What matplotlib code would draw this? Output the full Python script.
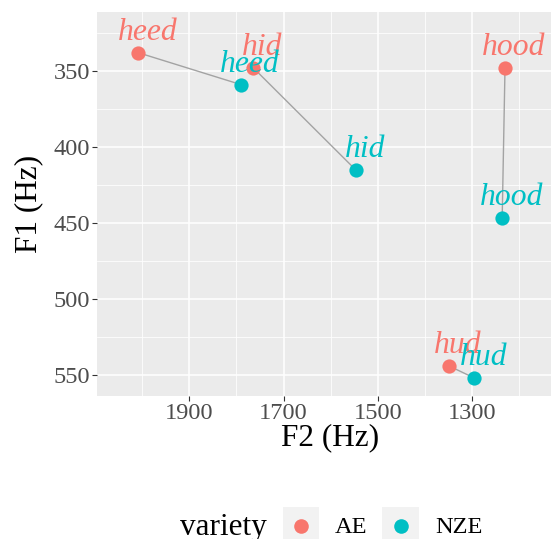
import matplotlib
matplotlib.use('Agg')
import matplotlib.pyplot as plt
from matplotlib.lines import Line2D
from matplotlib.patches import Rectangle
from matplotlib.legend_handler import HandlerBase
from matplotlib.ticker import MultipleLocator

plt.rcParams['font.family'] = ['Liberation Serif', 'DejaVu Serif']

# vowel formant means (Hz)
vowels = ['heed', 'hid', 'hood', 'hud']
ae_f2 = [2008, 1764, 1230, 1349]
ae_f1 = [338, 348, 348, 544]
nze_f2 = [1790, 1547, 1236, 1295]
nze_f1 = [359, 415, 447, 552]

varieties = ['AE', 'NZE']
colors = {'AE': '#F8766D', 'NZE': '#00BFC4'}


class KeyHandler(HandlerBase):
    # ggplot-like legend key: grey square with a centred dot
    def create_artists(self, legend, orig_handle, xdescent, ydescent,
                       width, height, fontsize, trans):
        rect = Rectangle((-xdescent, -ydescent), width, height,
                         facecolor='#F2F2F2', edgecolor='none', transform=trans)
        dot = Line2D([width / 2 - xdescent], [height / 2 - ydescent],
                     marker='o', linestyle='none', markersize=10.5,
                     markerfacecolor=orig_handle.get_markerfacecolor(),
                     markeredgewidth=0, transform=trans)
        return [rect, dot]


W, H = 551, 539
fig = plt.figure(figsize=(W / 100, H / 100), dpi=100)
ax = fig.add_axes([97 / W, (H - 395.7) / H, 454 / W, 383.7 / H])
ax.set_facecolor('#EBEBEB')
for s in ax.spines.values():
    s.set_visible(False)

# connecting segments AE -> NZE
for i in range(len(vowels)):
    ax.plot([ae_f2[i], nze_f2[i]], [ae_f1[i], nze_f1[i]],
            color='#A3A3A3', lw=1.0, zorder=2)

series = {'AE': (ae_f2, ae_f1), 'NZE': (nze_f2, nze_f1)}
for v in varieties:
    xs, ys = series[v]
    ax.scatter(xs, ys, s=105, color=colors[v], zorder=3, linewidths=0)
for v in varieties:
    xs, ys = series[v]
    for lab, x, y in zip(vowels, xs, ys):
        ax.annotate(lab, (x, y), xytext=(6.5, 9.4), textcoords='offset points',
                    ha='center', va='baseline', fontsize=22.8, style='italic',
                    color=colors[v], zorder=4)

ax.set_xlim(2095.9, 1132.4)
ax.set_ylim(563.6, 311.2)
ax.xaxis.set_major_locator(MultipleLocator(200))
ax.xaxis.set_minor_locator(MultipleLocator(100))
ax.yaxis.set_major_locator(MultipleLocator(50))
ax.yaxis.set_minor_locator(MultipleLocator(25))
ax.set_xticks([1900, 1700, 1500, 1300])
ax.grid(which='major', color='white', lw=1.1)
ax.grid(which='minor', color='white', lw=0.55)
ax.set_axisbelow(True)
ax.tick_params(which='major', length=3.6, width=0.8, color='#333333',
               labelcolor='#4D4D4D', labelsize=17.6, pad=1.5)
ax.tick_params(which='minor', length=0)

fig.text(330 / W, (H - 445) / H, 'F2 (Hz)', ha='center', va='baseline',
         fontsize=22.5)
fig.text(29 / W, (H - 204) / H, 'F1 (Hz)', ha='center', va='center',
         rotation=90, fontsize=22.5)

# legend
fig.text(180 / W, (H - 535) / H, 'variety', ha='left', va='baseline',
         fontsize=22.5)
handles = [Line2D([], [], marker='o', linestyle='none',
                  markerfacecolor=colors[v]) for v in varieties]
fig.legend(handles, varieties, handler_map={Line2D: KeyHandler()},
           loc='upper left', bbox_to_anchor=(282.7 / W, (H - 506.7) / H),
           ncol=2, frameon=False, fontsize=17.6, borderpad=0, borderaxespad=0,
           handlelength=1.5, handleheight=2.02, handletextpad=0.65,
           columnspacing=0.6)

fig.savefig('out.png', dpi=100)
